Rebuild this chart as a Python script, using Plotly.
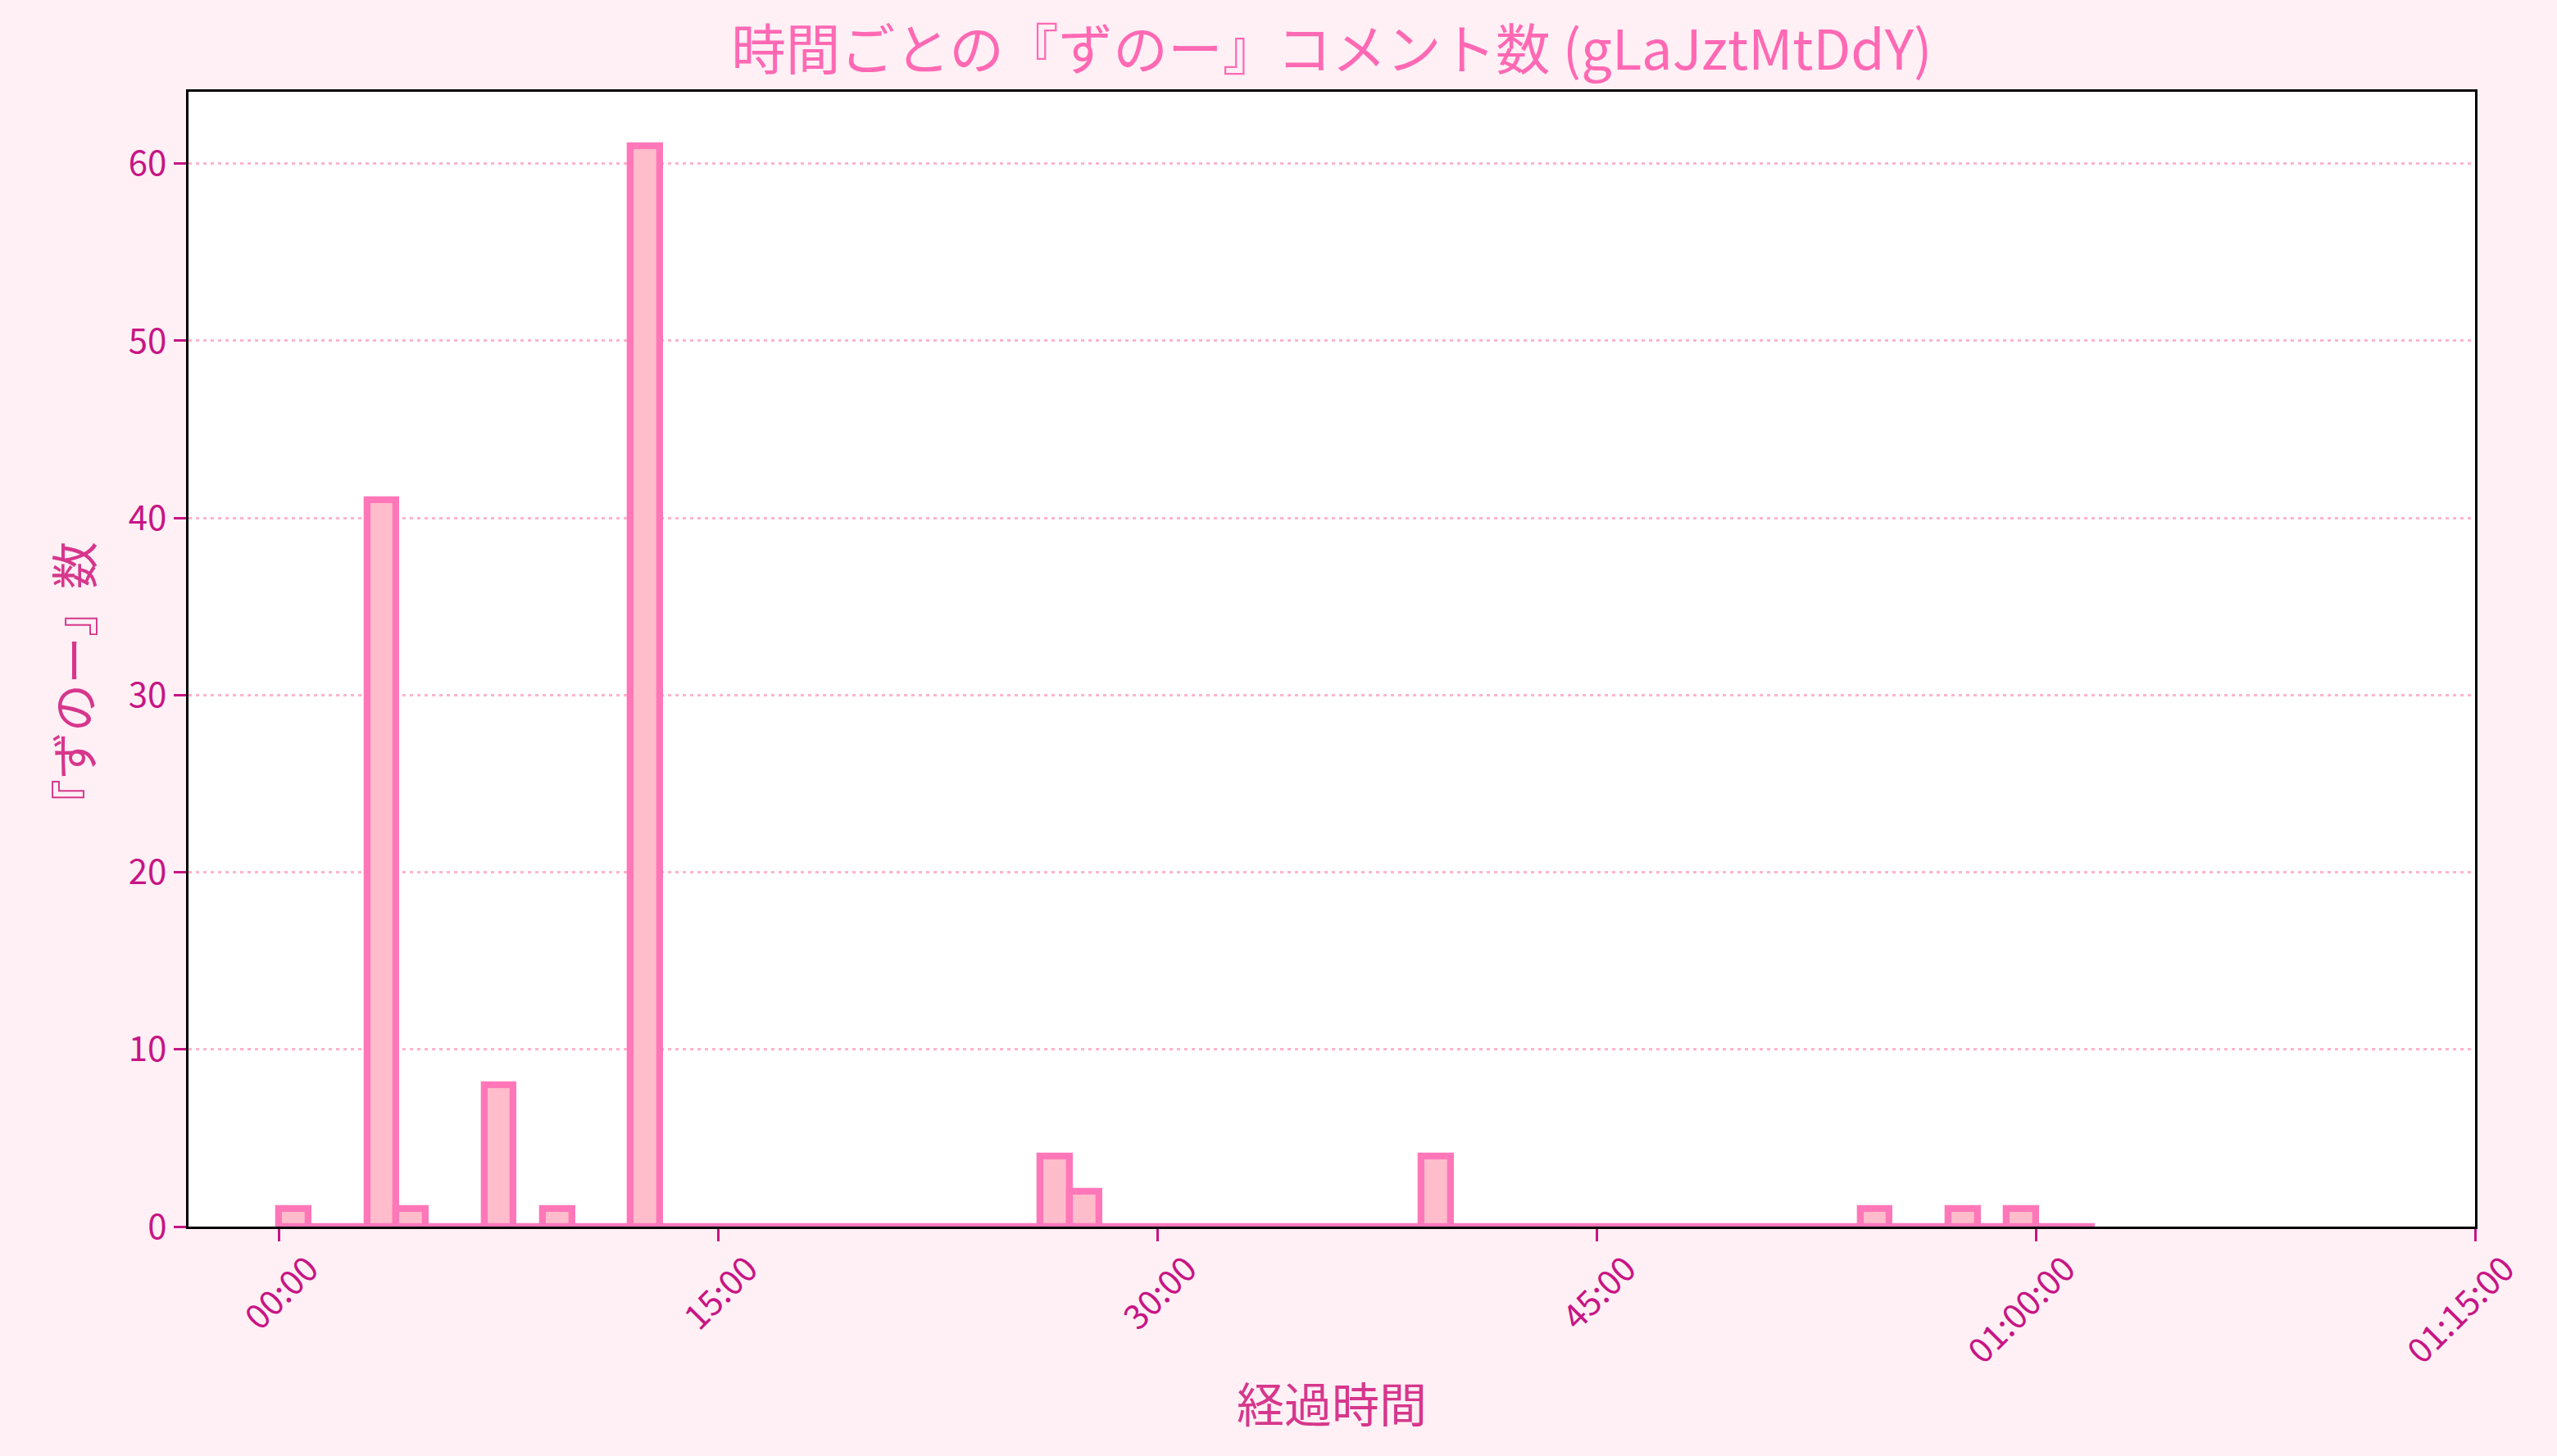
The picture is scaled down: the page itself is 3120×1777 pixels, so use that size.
import plotly.graph_objects as go

# ---- data (1-minute bins, minutes since start) ----
bin_start_min = list(range(0, 62))
counts_nonzero = {0: 1, 3: 41, 4: 1, 7: 8, 9: 1, 12: 61, 26: 4, 27: 2, 39: 4, 54: 1, 57: 1, 59: 1}
counts = [counts_nonzero.get(b, 0) for b in bin_start_min]
bin_width_min = 1

x_tick_vals = [0, 15, 30, 45, 60, 75]
x_tick_text = ["00:00", "15:00", "30:00", "45:00", "01:00:00", "01:15:00"]
y_tick_vals = [0, 10, 20, 30, 40, 50, 60]

title_text = "時間ごとの『ずのー』コメント数 (gLaJztMtDdY)"
x_label = "経過時間"
y_label = "『ずのー』数"

# ---- style ----
FONT = "Noto Sans CJK JP"
PAPER = "#fff0f5"
EDGE = "#ff77b9"
FILL = "#ffbccb"
TICK_COLOR = "#c71585"
LABEL_COLOR = "#d6378c"
TITLE_COLOR = "#ff69b4"
GRID = "#ffb3cf"

centers = [b + bin_width_min / 2 for b in bin_start_min]
edges = [bin_start_min[0], bin_start_min[-1] + bin_width_min]

fig = go.Figure()
# baseline outline of empty bins
fig.add_trace(go.Scatter(
    x=edges, y=[0, 0], mode="lines",
    line=dict(color=EDGE, width=8), hoverinfo="skip", showlegend=False,
))
fig.add_trace(go.Bar(
    x=centers, y=counts, width=bin_width_min,
    marker=dict(color=FILL, line=dict(color=EDGE, width=8.3)),
    showlegend=False,
))

fig.update_layout(
    width=3120, height=1777,
    paper_bgcolor=PAPER, plot_bgcolor="white",
    margin=dict(l=230, r=100, t=112, b=280, pad=0),
    bargap=0,
    font=dict(family=FONT, size=42, color=TICK_COLOR),
    title=dict(text=title_text, x=0.5208, xanchor="center", y=0.9651, yanchor="middle",
               yref="container", font=dict(family=FONT, size=66.7, color=TITLE_COLOR)),
    annotations=[dict(
        text=y_label, textangle=-90, showarrow=False,
        xref="paper", x=-0.0509, xanchor="center",
        yref="paper", y=0.478, yanchor="middle",
        font=dict(family=FONT, size=58, color=LABEL_COLOR),
    )],
)
fig.update_xaxes(
    range=[-3.09, 75], tickmode="array", tickvals=x_tick_vals, ticktext=x_tick_text,
    tickangle=-45, ticks="outside", ticklen=15, tickwidth=3.3, tickcolor=TICK_COLOR,
    tickfont=dict(family=FONT, size=42, color=TICK_COLOR),
    ticklabelshift=36, ticklabelstandoff=-8,
    showline=True, linecolor="black", linewidth=3.3, mirror=True,
    showgrid=False, zeroline=False,
    title=dict(text=x_label, font=dict(family=FONT, size=58, color=LABEL_COLOR), standoff=22),
)
fig.update_yaxes(
    range=[0, 64.05], tickmode="array", tickvals=y_tick_vals,
    ticks="outside", ticklen=15, tickwidth=3.3, tickcolor=TICK_COLOR,
    tickfont=dict(family=FONT, size=42, color=TICK_COLOR),
    showline=True, linecolor="black", linewidth=3.3, mirror=True,
    showgrid=True, gridcolor=GRID, gridwidth=3, griddash="4px,5px",
    zeroline=False,
)

fig.write_html("out.html", config={"displayModeBar": False},
               post_script="document.body.style.margin='0';document.body.style.overflow='hidden';")
